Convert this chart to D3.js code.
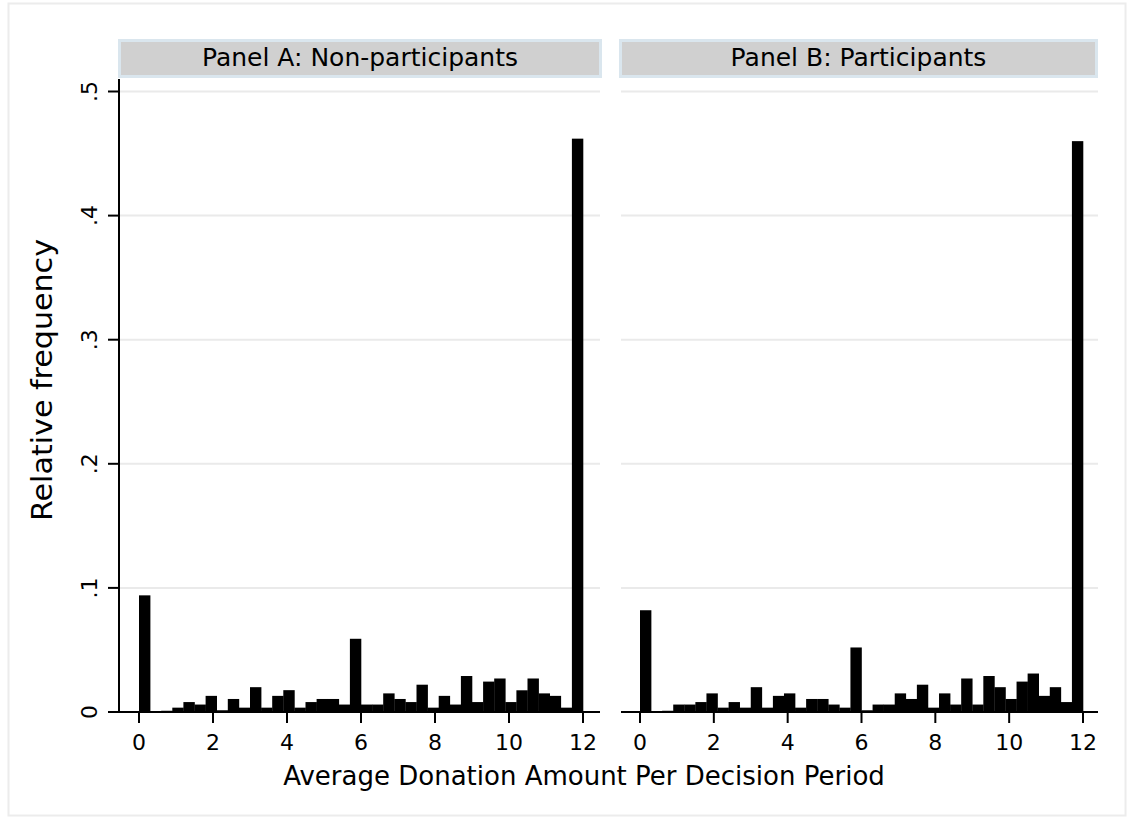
<!DOCTYPE html>
<html lang="en">
<head>
<meta charset="utf-8">
<title>Average Donation Amount Per Decision Period</title>
<script src="https://d3js.org/d3.v7.min.js"></script>
<style>
  body { margin: 0; background: #fff; }
  text { font-family: "DejaVu Sans", sans-serif; fill: #000; }
</style>
</head>
<body>
<script>
// histogram bins: width 0.3, from 0 to 12
var binWidth = 0.3;
var panels = ["Panel A: Non-participants", "Panel B: Participants"];
var freqA = [0.094, 0, 0.001, 0.0035, 0.008, 0.006, 0.013, 0.0014, 0.0105, 0.0035,
             0.020, 0.0035, 0.013, 0.0176, 0.0035, 0.008, 0.0105, 0.0105, 0.006, 0.059,
             0.006, 0.006, 0.015, 0.0105, 0.008, 0.022, 0.0035, 0.013, 0.006, 0.029,
             0.008, 0.0245, 0.027, 0.008, 0.0175, 0.027, 0.015, 0.013, 0.0035, 0.462];
var freqB = [0.082, 0, 0.001, 0.006, 0.006, 0.008, 0.015, 0.0035, 0.008, 0.0035,
             0.020, 0.0035, 0.013, 0.015, 0.0035, 0.0105, 0.0105, 0.006, 0.0035, 0.052,
             0.0014, 0.006, 0.006, 0.015, 0.0105, 0.022, 0.0035, 0.015, 0.006, 0.027,
             0.006, 0.029, 0.020, 0.0105, 0.0245, 0.031, 0.013, 0.020, 0.008, 0.460];
var xTicks = [0, 2, 4, 6, 8, 10, 12];
var yTicks = [0, 0.1, 0.2, 0.3, 0.4, 0.5];
var yTickLabels = ["0", ".1", ".2", ".3", ".4", ".5"];

var W = 1133, H = 824;
var svg = d3.select("body").append("svg")
    .attr("width", W).attr("height", H);

svg.append("rect").attr("width", W).attr("height", H).attr("fill", "#fff");
// outer graph region border
svg.append("rect")
    .attr("x", 8.5).attr("y", 3.5).attr("width", 1117).attr("height", 812)
    .attr("fill", "none").attr("stroke", "#ececec").attr("stroke-width", 2);

var y = d3.scaleLinear().domain([0, 0.5]).range([712, 91.5]);

var layout = [
  {title: panels[0], data: freqA, range: [139, 583], axis: [108, 600], strip: [118, 602], yaxis: true},
  {title: panels[1], data: freqB, range: [640, 1083], axis: [621, 1098], strip: [619, 1098], yaxis: false}
];

layout.forEach(function(p) {
  var x = d3.scaleLinear().domain([0, 12]).range(p.range);
  var g = svg.append("g");

  // gridlines
  g.selectAll(".grid")
    .data(yTicks.slice(1))
    .enter().append("line")
    .attr("x1", p.yaxis ? p.strip[0] + 2 : p.axis[0])
    .attr("x2", p.axis[1])
    .attr("y1", function(d) { return y(d); })
    .attr("y2", function(d) { return y(d); })
    .attr("stroke", "#eaeaea").attr("stroke-width", 2);

  // strip
  g.append("rect")
    .attr("x", p.strip[0] + 1.5).attr("y", 40.5)
    .attr("width", p.strip[1] - p.strip[0] - 3).attr("height", 36)
    .attr("fill", "#d0d0d0").attr("stroke", "#dae6ee").attr("stroke-width", 3);
  g.append("text")
    .attr("x", (p.strip[0] + p.strip[1]) / 2).attr("y", 66)
    .attr("text-anchor", "middle").attr("font-size", 25)
    .text(p.title);

  // bars
  g.selectAll(".bar")
    .data(p.data)
    .enter().append("rect")
    .attr("x", function(d, i) { return x(i * binWidth); })
    .attr("width", function(d, i) { return x((i + 1) * binWidth) - x(i * binWidth) + 0.3; })
    .attr("y", function(d) { return y(d); })
    .attr("height", function(d) { return y(0) - y(d); })
    .attr("fill", "#000");

  // x axis
  g.append("line")
    .attr("x1", p.axis[0]).attr("x2", p.axis[1])
    .attr("y1", y(0)).attr("y2", y(0))
    .attr("stroke", "#000").attr("stroke-width", 2);
  g.selectAll(".xt")
    .data(xTicks)
    .enter().append("line")
    .attr("x1", function(d) { return x(d); }).attr("x2", function(d) { return x(d); })
    .attr("y1", y(0)).attr("y2", y(0) + 11)
    .attr("stroke", "#000").attr("stroke-width", 2);
  g.selectAll(".xl")
    .data(xTicks)
    .enter().append("text")
    .attr("x", function(d) { return x(d); }).attr("y", 750)
    .attr("text-anchor", "middle").attr("font-size", 22)
    .text(function(d) { return d; });

  if (p.yaxis) {
    var ax = p.strip[0] + 1;
    g.append("line")
      .attr("x1", ax).attr("x2", ax)
      .attr("y1", 79).attr("y2", y(0) + 1)
      .attr("stroke", "#000").attr("stroke-width", 2);
    g.selectAll(".yt")
      .data(yTicks)
      .enter().append("line")
      .attr("x1", ax - 11).attr("x2", ax)
      .attr("y1", function(d) { return y(d); }).attr("y2", function(d) { return y(d); })
      .attr("stroke", "#000").attr("stroke-width", 2);
    g.selectAll(".yl")
      .data(yTicks)
      .enter().append("text")
      .attr("transform", function(d) { return "translate(97," + y(d) + ") rotate(-90)"; })
      .attr("text-anchor", "middle").attr("font-size", 22)
      .text(function(d, i) { return yTickLabels[i]; });
  }
});

svg.append("text")
  .attr("transform", "translate(52,380) rotate(-90)")
  .attr("text-anchor", "middle").attr("font-size", 28)
  .attr("textLength", 282).attr("lengthAdjust", "spacingAndGlyphs")
  .text("Relative frequency");

svg.append("text")
  .attr("x", 584).attr("y", 785)
  .attr("text-anchor", "middle").attr("font-size", 26)
  .text("Average Donation Amount Per Decision Period");
</script>
</body>
</html>
